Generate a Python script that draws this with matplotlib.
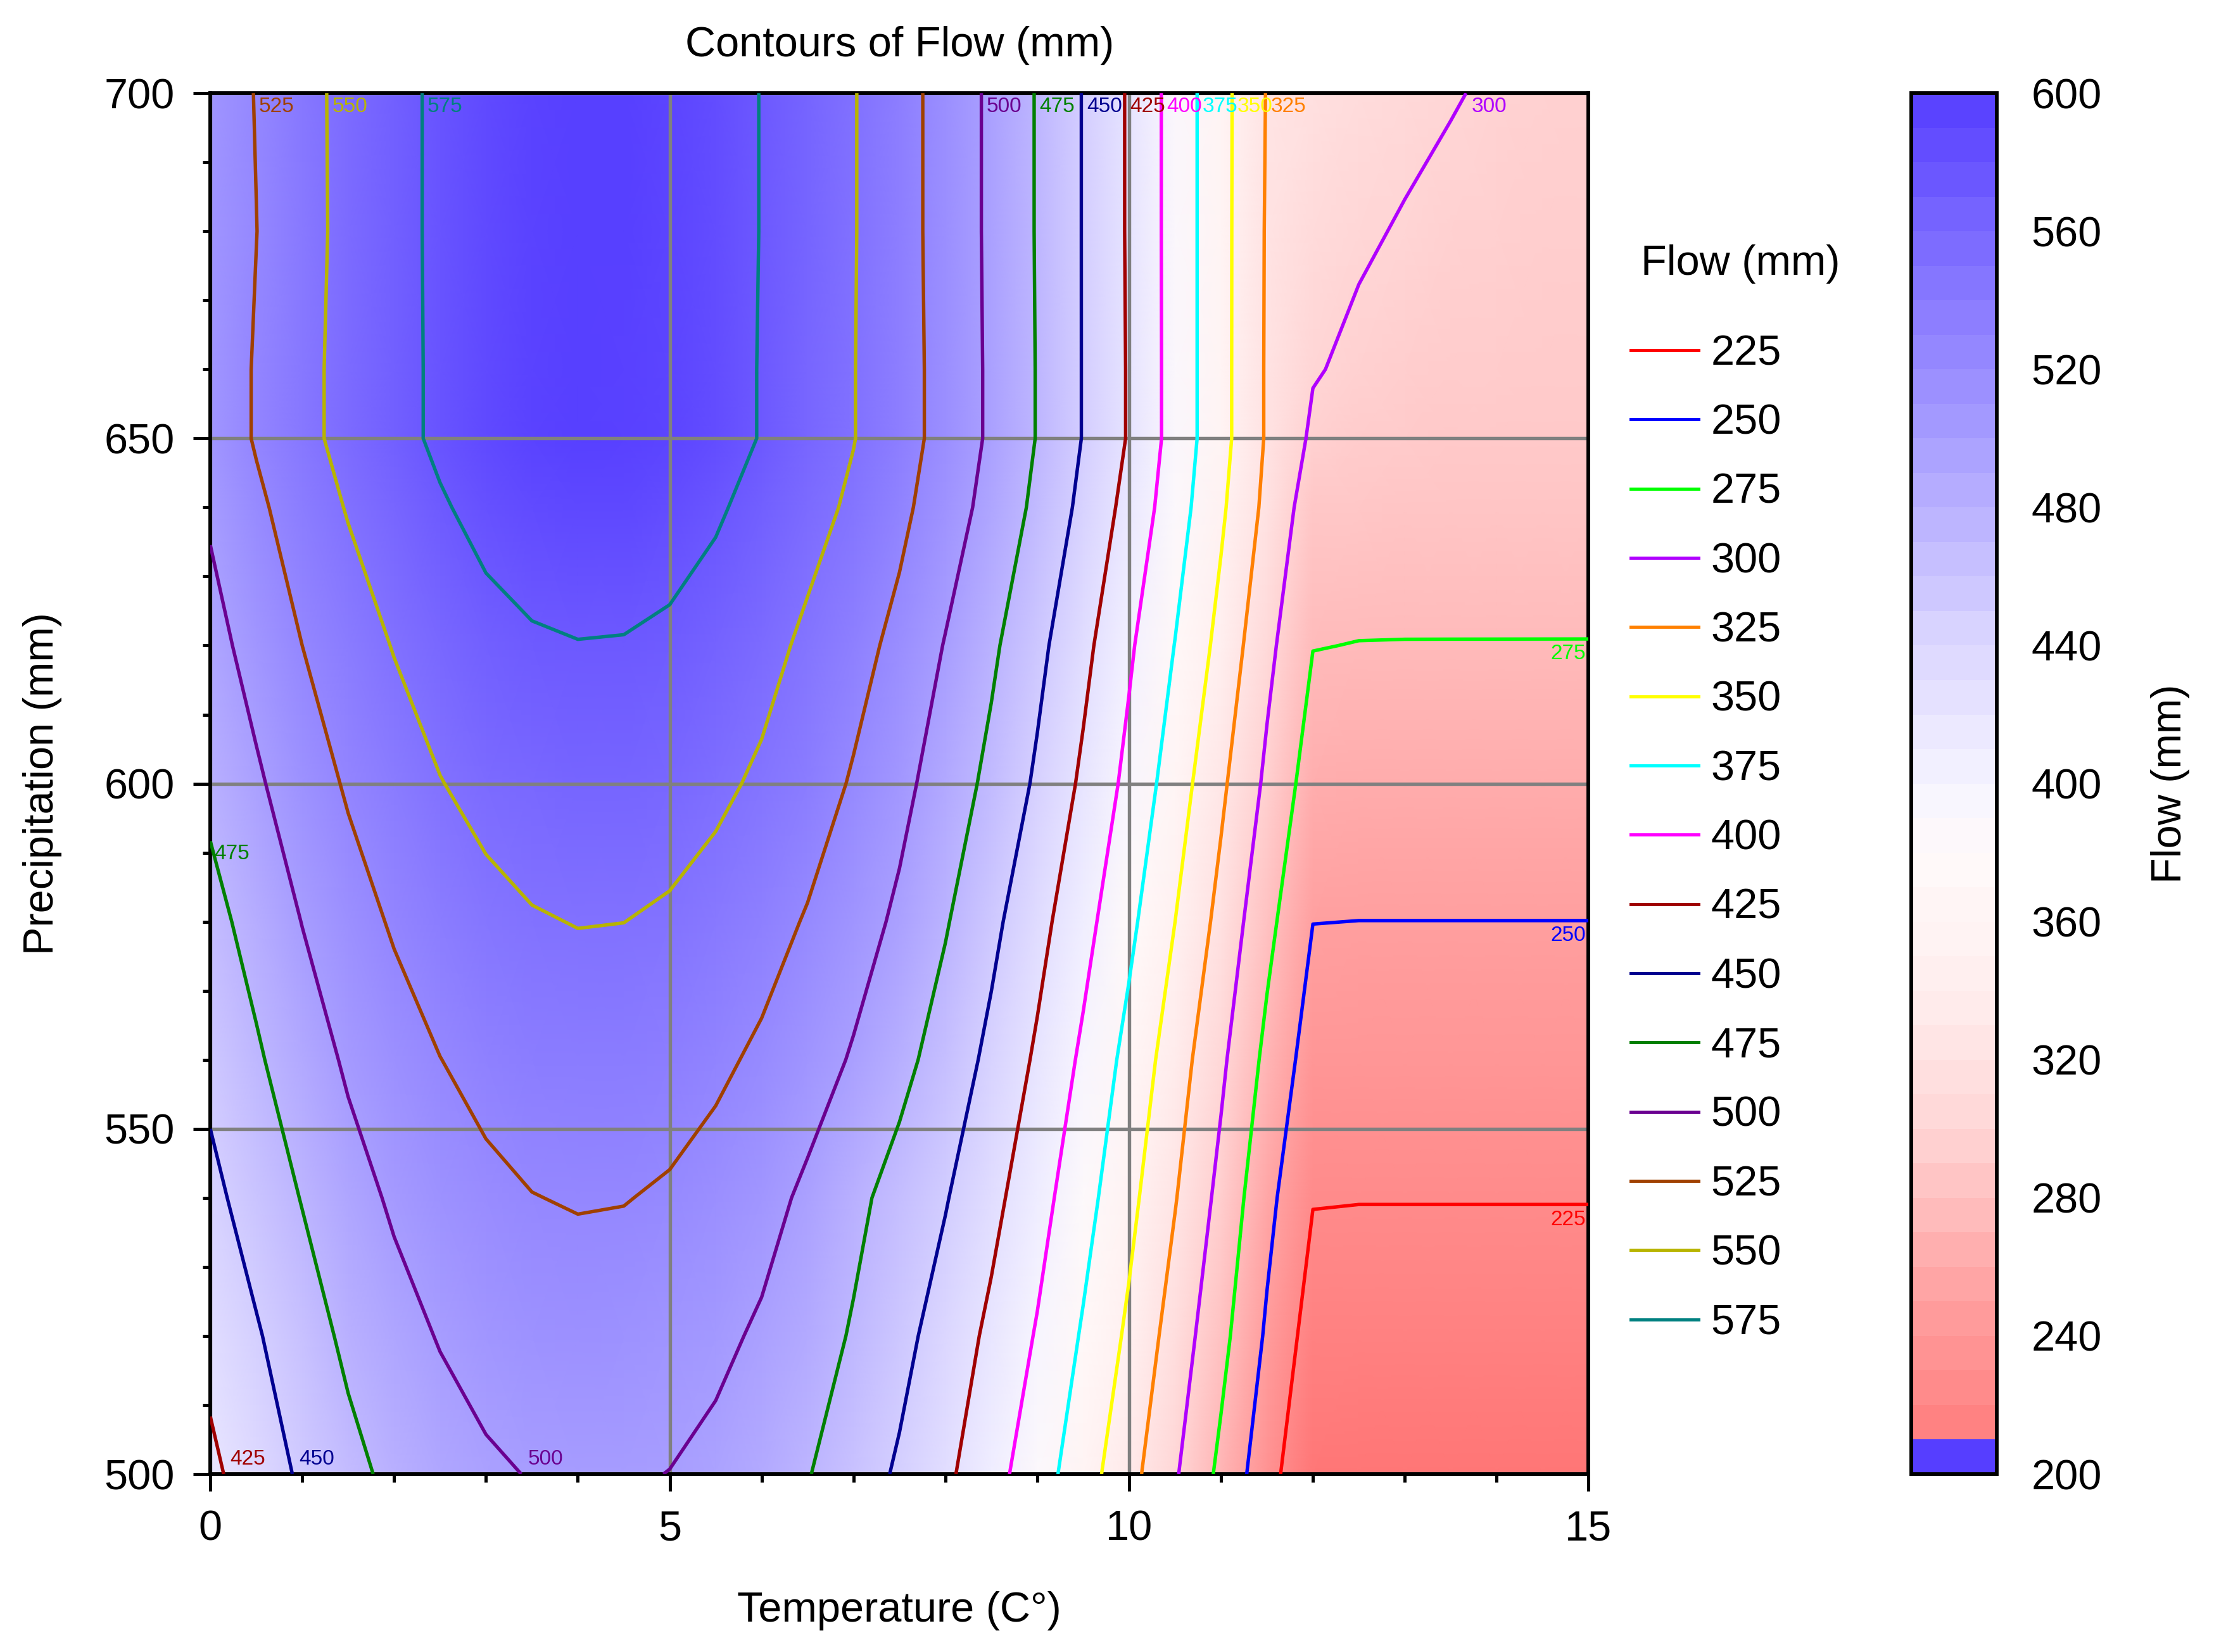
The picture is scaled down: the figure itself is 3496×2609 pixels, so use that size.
import numpy as np
import matplotlib.pyplot as plt
from matplotlib.colors import LinearSegmentedColormap, ListedColormap, BoundaryNorm, Normalize
from matplotlib.cm import ScalarMappable
from matplotlib.lines import Line2D
from matplotlib.ticker import MultipleLocator

plt.rcParams['font.family'] = ['Liberation Sans', 'DejaVu Sans']

# grid: temperature columns, precipitation rows
temperature = [0, 0.5, 1, 1.5, 2, 2.5, 3, 3.5, 4, 4.5, 5, 5.5, 6, 6.5, 7, 7.5,
               8, 8.5, 9, 9.5, 10, 10.5, 11, 11.5, 12, 12.5, 13, 13.5, 14, 14.5, 15]
precipitation = [500, 520, 540, 560, 580, 600, 620, 640, 650, 660, 680, 700]

# flow (mm) along each precipitation row
flow_p500 = [420, 437.2, 453.5, 468.2, 480.7, 489.8, 496.7, 501, 503, 502.5, 499.6, 494.2, 486.4, 476.2, 461.5, 446.9,
             429.8, 408.9, 386.4, 361.1, 333.3, 302.6, 269.4, 234.7, 202, 201, 201, 201, 201, 201, 201]
flow_p520 = [432, 447.8, 464, 479.8, 491.8, 501.3, 508.2, 512.6, 514.5, 513.9, 510.7, 505.1, 496.8, 486.1, 472.8, 457.2,
             439.6, 419.8, 398, 372.4, 345.5, 314, 282.2, 246.7, 214, 213, 213, 213, 213, 213, 213]
flow_p540 = [444, 460.3, 476, 491, 503.2, 512.9, 520, 524.5, 526.4, 525.7, 522.5, 516.6, 508.2, 495.6, 480.9, 466.2,
             451.5, 431.9, 409.4, 384, 356.7, 326.3, 293.1, 256.8, 226, 225.6, 225.6, 225.6, 225.6, 225.6, 225.6]
flow_p560 = [456, 472.1, 487.7, 503.3, 515.2, 524.7, 531.7, 536.2, 538.2, 537.7, 534.7, 529.2, 521.2, 510.8, 497.8, 482.2,
             464.5, 444.2, 421.4, 395.6, 367.4, 337.2, 304.6, 268.9, 238.5, 238, 238, 238, 238, 238, 238]
flow_p580 = [468, 483, 500.5, 515.4, 527.4, 536.9, 544, 548.5, 550.6, 550.1, 547.2, 541.7, 533.8, 523.2, 510.2, 495.8,
             476.9, 455.9, 433, 408.2, 380.7, 350, 317.6, 281.8, 250.2, 249.9, 249.9, 249.9, 249.9, 249.9, 249.9]
flow_p600 = [480, 496.7, 512.8, 527.6, 538.4, 549.3, 556.3, 560.9, 563, 562.6, 559.7, 554.4, 546.6, 536.3, 522.8, 506.7,
             488.8, 468.9, 446.4, 420.7, 393.5, 362.5, 329.6, 295.3, 263, 262, 262, 262, 262, 262, 262]
flow_p620 = [492, 508.6, 525, 538.4, 551.1, 560.7, 567.7, 572.3, 574.3, 573.8, 570.8, 565.2, 557.2, 545.8, 533.4, 518.7,
             498.8, 479.3, 456.3, 431.5, 403.5, 374.4, 342.6, 306.3, 275.5, 274.6, 274.5, 274.5, 274.5, 274.5, 274.5]
flow_p640 = [503, 520.5, 536.6, 551.5, 562.1, 572.7, 581.6, 587.4, 589.9, 589.1, 585, 577.7, 567.9, 557.7, 546.3, 530.6,
             512.1, 491.7, 469.8, 443.9, 417.1, 386.3, 353.9, 318.8, 287, 286, 285.5, 285.3, 285.2, 285.1, 285]
flow_p650 = [509, 527, 543.7, 556.9, 567.9, 579.1, 588.3, 594.2, 596.9, 596.2, 592.3, 585, 573.8, 562.3, 550.7, 534.7,
             516.8, 496.1, 474, 449, 423, 390.4, 358.3, 322.5, 296, 292, 290, 289, 288.5, 288, 288]
flow_p660 = [509, 527, 543.7, 556.9, 567.9, 579.1, 588.3, 594.2, 596.9, 596.2, 592.3, 585, 573.8, 562.3, 550.7, 534.7,
             516.8, 496.1, 474, 449, 423, 390.4, 358.3, 322.5, 301.5, 296, 293.5, 292, 291, 290.5, 290]
flow_p680 = [510, 524.7, 542, 556.4, 567.9, 579.5, 589, 595.1, 597.8, 597.2, 593.1, 585.6, 574.3, 562.7, 551.2, 534.4,
             515.9, 495.6, 473.5, 449, 422.4, 390.4, 358.3, 322.9, 308, 302.5, 298.5, 296, 294.5, 293.5, 293]
flow_p700 = [510, 526, 542.7, 556.4, 567.9, 579.5, 589, 595.1, 597.8, 597.2, 593.1, 585.6, 574.3, 562.7, 551.2, 534.4,
             515.9, 495.6, 473.5, 449, 422.4, 390.4, 358.3, 323.9, 316, 310, 305, 301, 298, 296, 295]

levels = [225, 250, 275, 300, 325, 350, 375, 400, 425, 450, 475, 500, 525, 550, 575]
line_colors = ['#FF0000', '#0000FF', '#00FF00', '#B000FF', '#FF8000', '#FFFF00', '#00FFFF', '#FF00FF',
               '#A00000', '#000090', '#008000', '#6A0090', '#A04000', '#B8B400', '#008080']

flow = np.array([flow_p500, flow_p520, flow_p540, flow_p560, flow_p580, flow_p600,
                 flow_p620, flow_p640, flow_p650, flow_p660, flow_p680, flow_p700])

# red - white - blue map like the Origin one
anchors = [(200, '#FF7676'), (250, '#FFA0A0'), (300, '#FFD6D6'), (340, '#FFEEEE'), (380, '#FFFAFA'),
           (400, '#F6F4FF'), (440, '#DCD7FF'), (500, '#A89EFF'), (560, '#7A69FF'), (600, '#563EFF')]
cmap = LinearSegmentedColormap.from_list('bwr_origin', [((v - 200) / 400, c) for v, c in anchors])
norm = Normalize(200, 600)

fig = plt.figure(figsize=(3496 / 300, 2609 / 300), dpi=300)
ax = fig.add_axes([0.0950, 0.1077, 0.6225, 0.8359])

ax.pcolormesh(temperature, precipitation, flow, cmap=cmap, norm=norm, shading='gouraud', zorder=1)
cs = ax.contour(temperature, precipitation, flow, levels=levels, colors=line_colors, linewidths=1.3, zorder=3)

# labels at one end of every contour line, as Origin does
prefs = {475: ['top', 'right', 'left', 'bottom']}
default_pref = ['top', 'right', 'bottom', 'left']
offsets = {'top': ((2, -1.5), 'left', 'top'), 'right': ((-1, -2), 'right', 'top'),
           'bottom': ((2.5, 2), 'left', 'bottom'), 'left': ((1.5, -1), 'left', 'top')}


def edge_of(pt):
    x, y = pt
    if abs(y - 700) < 0.5:
        return 'top'
    if abs(x - 15) < 0.02:
        return 'right'
    if abs(y - 500) < 0.5:
        return 'bottom'
    if abs(x) < 0.02:
        return 'left'
    return None


for lev, col, segs in zip(levels, line_colors, cs.allsegs):
    order = prefs.get(lev, default_pref)
    for seg in segs:
        if len(seg) < 2:
            continue
        ends = [(seg[0], edge_of(seg[0])), (seg[-1], edge_of(seg[-1]))]
        ends = [e for e in ends if e[1] is not None]
        if not ends:
            continue
        ends.sort(key=lambda e: (order.index(e[1]), e[0][0]))
        pt, edge = ends[0]
        off, ha, va = offsets[edge]
        ax.annotate(str(lev), xy=(pt[0], pt[1]), xytext=off, textcoords='offset points',
                    ha=ha, va=va, fontsize=8, color=col, zorder=4)

ax.set_xlim(0, 15)
ax.set_ylim(500, 700)
ax.set_xticks([0, 5, 10, 15])
ax.set_yticks([500, 550, 600, 650, 700])
ax.xaxis.set_minor_locator(MultipleLocator(1))
ax.yaxis.set_minor_locator(MultipleLocator(10))
ax.tick_params(which='major', direction='out', length=6.5, width=1.2, labelsize=16, pad=7)
ax.tick_params(which='minor', direction='out', length=3, width=1.2)
for sp in ax.spines.values():
    sp.set_linewidth(1.4)
ax.grid(True, which='major', color='#808080', linewidth=1.3)

ax.set_title('Contours of Flow (mm)', fontsize=16, pad=14)
ax.set_xlabel('Temperature (C°)', fontsize=16, labelpad=16)
ax.set_ylabel('Precipitation (mm)', fontsize=16, labelpad=16)

# legend of contour levels
fig.text(0.741, 0.8402, 'Flow (mm)', fontsize=16, ha='left', va='center')
handles = [Line2D([], [], color=c, linewidth=1.2) for c in line_colors]
fig.legend(handles, [str(l) for l in levels], loc='upper left',
           bbox_to_anchor=(0.7366, 0.7975), frameon=False, fontsize=16,
           handlelength=1.6, handletextpad=0.3, labelspacing=0.71, borderpad=0, borderaxespad=0)

# stepped colour scale, 40 bands of 10 mm (lowest band shown blue as in the original)
bounds = list(range(200, 601, 10))
band_colors = [cmap(norm(b + 5)) for b in bounds[:-1]]
band_colors[0] = cmap(1.0)
cax = fig.add_axes([0.8633, 0.1077, 0.0386, 0.8359])
cb = fig.colorbar(ScalarMappable(norm=BoundaryNorm(bounds, len(band_colors)), cmap=ListedColormap(band_colors)),
                  cax=cax, ticks=list(range(200, 601, 40)))
cb.outline.set_linewidth(1.4)
cax.minorticks_off()
cax.tick_params(which='both', length=0, labelsize=16, pad=13)
cax.set_ylabel('Flow (mm)', fontsize=16)
cax.yaxis.set_label_coords(2.8, 0.5)

fig.savefig('out.png', dpi=300)
